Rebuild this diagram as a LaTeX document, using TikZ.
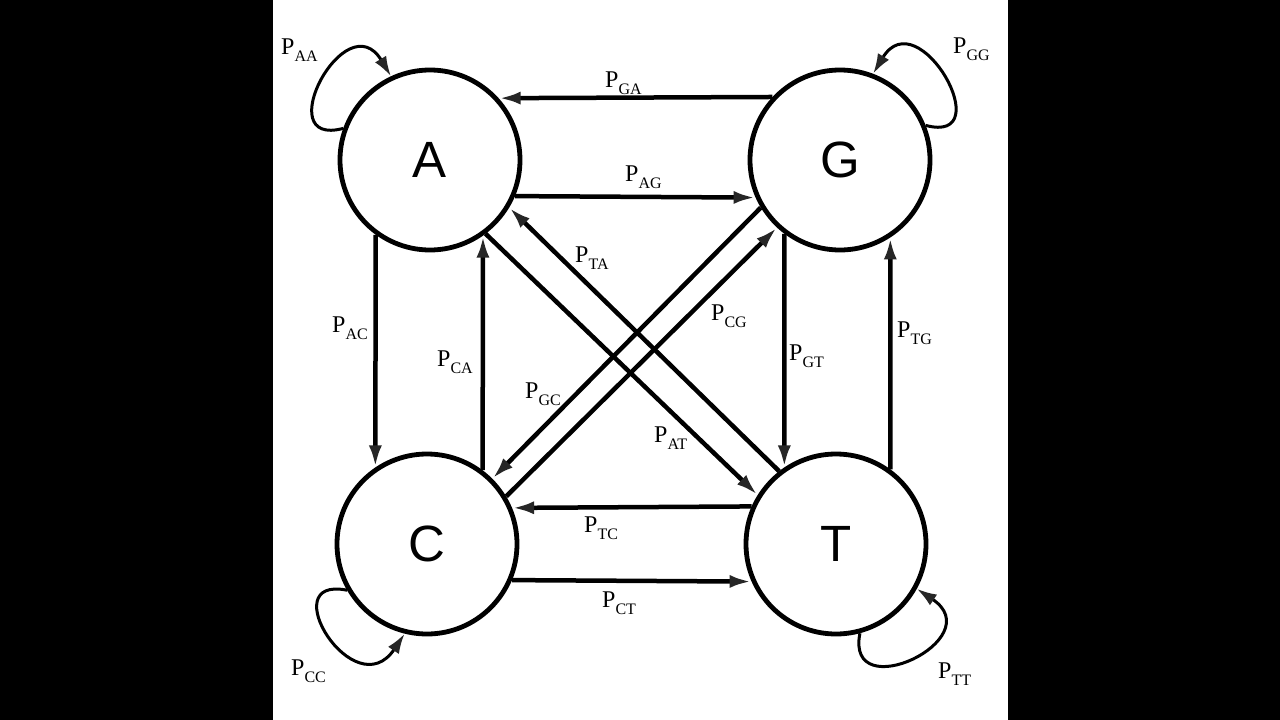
\documentclass[tikz,border=0pt]{standalone}
\usepackage{fontspec}
\setmainfont{Liberation Serif}
\newfontfamily\circfont{Liberation Sans}
\usetikzlibrary{arrows.meta}
\newcommand{\plab}[1]{P\raisebox{-7pt}{\fontsize{16pt}{16pt}\selectfont #1}}
\begin{document}
\begin{tikzpicture}[x=1pt,y=1pt,
  state/.style={draw, circle, line width=4.8pt, minimum size=180pt, inner sep=0pt,
    font=\circfont\fontsize{51pt}{51pt}\selectfont},
  trans/.style={line width=4.5pt, -{Latex[length=22pt,width=13pt,color=black!85]}},
  selfloop/.style={line width=3pt, -{Latex[length=20pt,width=13pt,color=black!85]}},
  lab/.style={anchor=base west, inner sep=0pt, font=\fontsize{24pt}{24pt}\selectfont}]
\useasboundingbox (0,0) rectangle (1280,-720);
\fill[black] (0,0) rectangle (1280,-720);
\fill[white] (273,0) rectangle (1008,-720);

\node[state] (A) at (430,-160) {A};
\node[state] (G) at (840,-160) {G};
\node[state] (C) at (427,-544) {C};
\node[state] (T) at (836,-544) {T};

% horizontal
\draw[trans] (G.137.6) -- (A.42.4);
\draw[trans] (A.-23.7) -- (G.-156.3);
\draw[trans] (T.156.6) -- (C.23.4);
\draw[trans] (C.-23.7) -- (T.-156.3);
% vertical
\draw[trans] (A.-126.7) -- (C.124.4);
\draw[trans] (C.53.3) -- (A.-55.6);
\draw[trans] (G.-127.1) -- (T.124.0);
\draw[trans] (T.54.8) -- (G.-57.8);
% diagonal
\draw[trans] (A.-53.1) -- (T.148.4);
\draw[trans] (T.128.6) -- (A.-31.1);
\draw[trans] (G.-149) -- (C.45.9);
\draw[trans] (C.31.5) -- (G.-133.4);

% self loops
\draw[selfloop] (A.160) .. controls +(-75,-20) and +(-45,75) .. (A.115);
\draw[selfloop] (G.22) .. controls +(75,-20) and +(45,75) .. (G.69);
\draw[selfloop] (C.210) .. controls +(-75,15) and +(-50,-75) .. (C.-104);
\draw[selfloop] (T.-75) .. controls +(-15,-75) and +(75,-50) .. (T.-29);

% labels
\node[lab] (lAA) at (281,-54) {\plab{AA}};
\node[lab] (lGG) at (953,-53) {\plab{GG}};
\node[lab] (lCC) at (291,-675) {\plab{CC}};
\node[lab] (lTT) at (938,-678) {\plab{TT}};
\node[lab] (lGA) at (605,-87) {\plab{GA}};
\node[lab] (lAG) at (625,-181) {\plab{AG}};
\node[lab] (lAC) at (332,-332) {\plab{AC}};
\node[lab] (lCA) at (437,-366) {\plab{CA}};
\node[lab] (lGT) at (789,-360) {\plab{GT}};
\node[lab] (lTG) at (897,-337) {\plab{TG}};
\node[lab] (lTA) at (575,-262) {\plab{TA}};
\node[lab] (lCG) at (711,-320) {\plab{CG}};
\node[lab] (lGC) at (525,-398) {\plab{GC}};
\node[lab] (lAT) at (654,-442) {\plab{AT}};
\node[lab] (lTC) at (584,-532) {\plab{TC}};
\node[lab] (lCT) at (602,-607) {\plab{CT}};
\end{tikzpicture}
\end{document}
